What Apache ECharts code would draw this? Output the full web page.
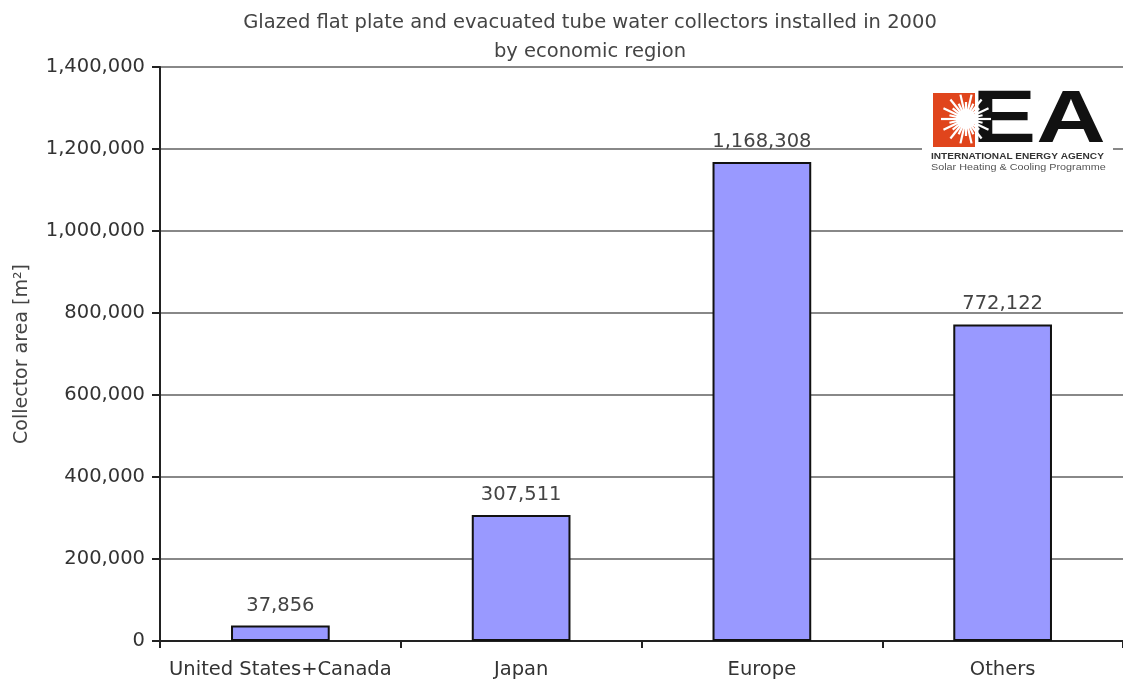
<!DOCTYPE html>
<html><head><meta charset="utf-8">
<script src="https://cdn.jsdelivr.net/npm/echarts@6/dist/echarts.min.js"></script>
<style>html,body{margin:0;padding:0;background:#fff}#c{width:1123px;height:686px}</style>
</head><body><div id="c"></div>
<script>
const categories = ["United States+Canada", "Japan", "Europe", "Others"];
const values = [37856, 307511, 1168308, 772122];
const yTicks = [0, 200000, 400000, 600000, 800000, 1000000, 1200000, 1400000];
const titleLines = ["Glazed flat plate and evacuated tube water collectors installed in 2000", "by economic region"];
const yName = "Collector area [m²]";

const FONT = 'DejaVu Sans';
const chart = echarts.init(document.getElementById('c'));
const fmt = v => v.toLocaleString('en-US');
const rays = [];
const cx = 966, cy = 119;
for (let i = 0; i < 28; i++) {
  const a = i * Math.PI * 2 / 28;
  const r = (i % 2 === 0) ? 25 : 17;
  rays.push({type:'line', shape:{x1:cx, y1:cy, x2:cx+r*Math.cos(a), y2:cy+r*Math.sin(a)}, style:{stroke:'#fff', lineWidth:2.2}, z:103});
}
chart.setOption({
  animation: false,
  title: {
    text: titleLines.join('\n'), left: 585, top: 3, textAlign: 'center',
    textStyle: {fontFamily: FONT, fontSize: 19.5, fontWeight: 'normal', color: '#444', lineHeight: 29}
  },
  grid: {left: 160, right: -5, top: 67, bottom: 45, containLabel: false},
  xAxis: {
    type: 'category', data: categories,
    axisLine: {lineStyle: {color: '#222', width: 2}},
    axisTick: {show: true, interval: 0, alignWithLabel: false, length: 7, lineStyle: {color: '#222', width: 2}},
    axisLabel: {interval: 0, hideOverlap: false, fontFamily: FONT, fontSize: 19.5, color: '#333', margin: 19}
  },
  yAxis: {
    type: 'value', min: 0, max: 1400000, interval: 200000,
    name: yName, nameLocation: 'middle', nameGap: 128,
    nameTextStyle: {fontFamily: FONT, fontSize: 19, color: '#444'},
    axisLine: {show: true, lineStyle: {color: '#222', width: 2}},
    axisTick: {show: true, length: 8, lineStyle: {color: '#222', width: 2}},
    axisLabel: {fontFamily: FONT, fontSize: 19.5, color: '#333', margin: 15, formatter: v => fmt(v)},
    splitLine: {lineStyle: {color: '#888', width: 2}}
  },
  series: [{
    type: 'bar', data: values, barWidth: '41%',
    itemStyle: {color: '#9999FF', borderColor: '#111', borderWidth: 2},
    label: {show: true, position: 'top', distance: 10, formatter: p => fmt(p.value),
      fontFamily: FONT, fontSize: 19.5, color: '#444'}
  }],
  graphic: [
    {type:'rect', shape:{x:922, y:86, width:191, height:96}, style:{fill:'#fff'}, z:100},
    {type:'rect', shape:{x:933, y:93, width:42, height:54}, style:{fill:'#e0451c'}, z:101},
    {type:'text', x:972, y:122, scaleX:1.3, style:{text:'EA', font:'bold 74px Liberation Sans, Arial', fill:'#111', verticalAlign:'middle', align:'left'}, z:102},
    {type:'circle', shape:{cx:cx, cy:cy, r:10}, style:{fill:'#fff'}, z:103},
    ...rays,
    {type:'text', x:931, y:157, scaleX:1.12, style:{text:'INTERNATIONAL ENERGY AGENCY', font:'bold 9px Liberation Sans Narrow, Arial', fill:'#333', verticalAlign:'middle'}, z:101},
    {type:'text', x:931, y:168, scaleX:1.2, style:{text:'Solar Heating & Cooling Programme', font:'9px Liberation Sans Narrow, Arial', fill:'#555', verticalAlign:'middle'}, z:101}
  ]
});
</script></body></html>
